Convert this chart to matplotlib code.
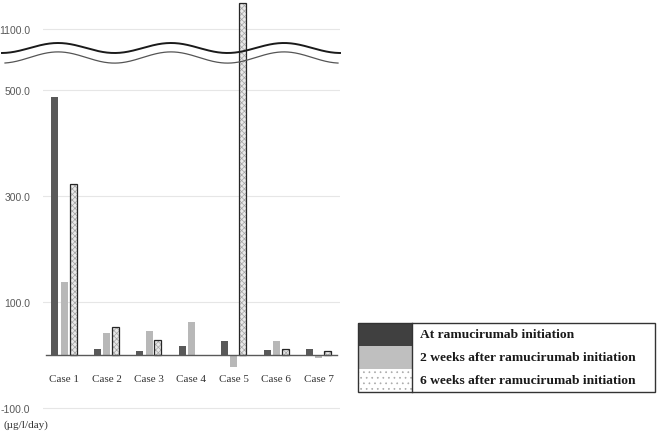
import numpy as np
import matplotlib.pyplot as plt
from matplotlib.patches import Rectangle

cases = ["Case 1", "Case 2", "Case 3", "Case 4", "Case 5", "Case 6", "Case 7"]
at_init = [487, 12, 7, 16, 27, 9, 11]
week2 = [137, 42, 45, 62, -23, 27, -6]
week6 = [323, 52, 28, np.nan, 1150, 12, 7]
tick_values = [-100, 100, 300, 500, 1100]
legend_labels = ["At ramucirumab initiation",
                 "2 weeks after ramucirumab initiation",
                 "6 weeks after ramucirumab initiation"]

# broken axis: everything above the break is shifted down
BREAK_AT = 600
BREAK_SHIFT = 484


def to_display(v):
    v = np.asarray(v, dtype=float)
    return np.where(v > BREAK_AT, v - BREAK_SHIFT, v)


W, H = 661, 435
fig = plt.figure(figsize=(W / 100, H / 100), dpi=100)
ax = fig.add_axes([43 / W, 1 - 424.6 / H, 297 / W, 423 / H])

x = np.arange(len(cases))
bw = 0.165
dark = "#595959"
light = "#b8b8b8"

plt.rcParams["hatch.linewidth"] = 0.5
ax.bar(x - 0.22, to_display(at_init), bw, color=dark, zorder=3)
ax.bar(x, to_display(week2), bw, color=light, zorder=3)
w6 = to_display(week6)
ax.bar(x + 0.21, w6, bw, color="#e8e8e8", edgecolor="#a6a6a6", hatch="xxxxxx",
       linewidth=0, zorder=3)
ax.bar(x + 0.21, w6, bw, fill=False, edgecolor="#262626", linewidth=0.9, zorder=4)

ax.set_xlim(-0.5, 6.5)
ax.set_ylim(-130, 670)
for t in tick_values:
    ax.axhline(float(to_display(t)), color="#e6e6e6", lw=0.8, zorder=1)
ax.axhline(0, color="#595959", lw=1.0, xmin=0.01, xmax=0.99, zorder=5)
ax.set_yticks(to_display(tick_values))
ax.set_yticklabels([f"{t:.1f}" for t in tick_values], fontsize=7.5,
                   family="Liberation Sans", color="#595959")
ax.tick_params(axis="y", length=0, pad=9)
ax.set_xticks([])
for s in ax.spines.values():
    s.set_visible(False)

for i, c in enumerate(cases):
    ax.text(i, -44, c, ha="center", va="center", fontsize=8,
            family="Liberation Serif", color="#333333")

# overlay for the break waves and unit label
ov = fig.add_axes([0, 0, 1, 1], zorder=10)
ov.set_xlim(0, W)
ov.set_ylim(H, 0)
ov.axis("off")
ov.patch.set_alpha(0)
xs = np.linspace(2, 340, 400)
ov.plot(xs, 49 - 5 * np.cos(2 * np.pi * (xs - 58) / 113), color="#1a1a1a", lw=1.4)
xs2 = np.linspace(5, 338, 400)
ov.plot(xs2, 58.5 - 5.6 * np.cos(2 * np.pi * (xs2 - 58) / 113), color="#555555", lw=0.9)
ov.text(3, 425, "(\u00b5g/l/day)", fontsize=8, family="Liberation Serif",
        color="#333333", va="center", ha="left")

# legend box
lx, ly, lw_, lh = 358, 324, 297, 69
row = lh / 3
fills = [("#404040", None), ("#bfbfbf", None), ("white", "...")]
for k, (fc, hatch) in enumerate(fills):
    y0 = ly + k * row
    ov.add_patch(Rectangle((lx, y0), 54, row, facecolor=fc, hatch=hatch,
                           edgecolor="#aaaaaa" if hatch else fc, linewidth=0))
    ov.text(lx + 62, y0 + row / 2, legend_labels[k], fontsize=9.7, fontweight="bold",
            family="Liberation Serif", color="#1a1a1a", va="center", ha="left")
ov.add_patch(Rectangle((lx, ly), lw_, lh, fill=False, edgecolor="#333333", lw=1))
ov.plot([lx + 54, lx + 54], [ly, ly + lh], color="#333333", lw=1)

fig.savefig("out.png", dpi=100)
